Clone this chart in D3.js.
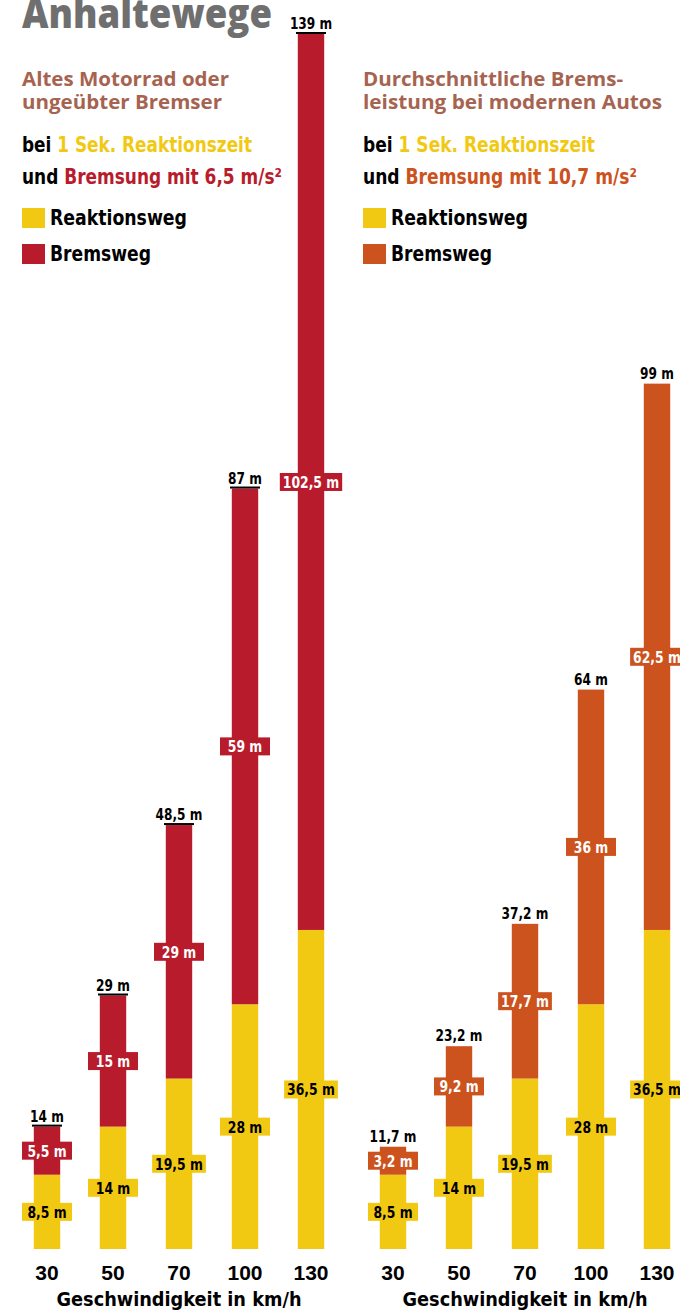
<!DOCTYPE html>
<html>
<head>
<meta charset="utf-8">
<script src="https://cdn.jsdelivr.net/npm/d3@7"></script>
<style>
  body { margin: 0; background: #fff; }
  svg { display: block; }
  text { font-family: "Liberation Sans Narrow", "DejaVu Sans Condensed", "Roboto", sans-serif; font-weight: bold; }
</style>
</head>
<body>
<script>
const speeds = ['30', '50', '70', '100', '130'];
const reaction = [8.5, 14, 19.5, 28, 36.5];
const brakeOld = [5.5, 15, 29, 59, 102.5];
const totalOld = [14, 29, 48.5, 87, 139];
const brakeNew = [3.2, 9.2, 17.7, 36, 62.5];
const totalNew = [11.7, 23.2, 37.2, 64, 99];
const legendKeys = ['Reaktionsweg', 'Bremsweg'];

const w = 680;
const h = 1311;
const yellow = '#f1c913';
const red = '#b81c2c';
const orange = '#cc521e';
const brown = '#a6634f';

const de = d3.formatLocale({decimal: ',', thousands: '.', grouping: [3], currency: ['', '€']});
const fmt = (v) => de.format('~f')(v) + ' m';

const svg = d3.select('body').append('svg').attr('width', w).attr('height', h);

const yScale = d3.scaleLinear().domain([0, 139]).range([1249, 34]);

// squeeze text horizontally a bit, the original uses a condensed face
function squeeze(sel, k) {
  sel.each(function() {
    const len = this.getComputedTextLength();
    d3.select(this).attr('textLength', len * k).attr('lengthAdjust', 'spacingAndGlyphs');
  });
}

svg.append('text').text('Anhaltewege')
   .attr('x', 22).attr('y', 28)
   .attr('textLength', 250).attr('lengthAdjust', 'spacingAndGlyphs')
   .style('font-family', '"Open Sans", "DejaVu Sans", sans-serif').style('font-weight', 800)
   .style('font-size', '40px').style('fill', '#6f6f6f');

function drawPanel(p) {
  const g = svg.append('g');
  const xScale = d3.scaleBand().domain(speeds)
                   .range([p.x0, p.x0 + 330]).paddingInner(0.6).paddingOuter(0.3);
  const bw = xScale.bandwidth();
  const tx = p.tx;

  // header
  p.head.forEach((line, i) => {
    g.append('text').text(line).attr('x', tx).attr('y', 86 + i * 23)
     .attr('textLength', p.headW[i]).attr('lengthAdjust', 'spacingAndGlyphs')
     .style('font-family', '"Open Sans", "DejaVu Sans", sans-serif').style('font-weight', 700)
     .style('font-size', '20px').style('fill', brown);
  });
  const t1 = g.append('text').attr('x', tx).attr('y', 152)
              .attr('textLength', p.line1W).attr('lengthAdjust', 'spacingAndGlyphs')
              .style('font-size', '22px');
  t1.append('tspan').text('bei ').style('fill', '#000');
  t1.append('tspan').text('1 Sek. Reaktionszeit').style('fill', yellow);
  const t2 = g.append('text').attr('x', tx).attr('y', 184)
              .attr('textLength', p.line2W).attr('lengthAdjust', 'spacingAndGlyphs')
              .style('font-size', '22px');
  t2.append('tspan').text('und ').style('fill', '#000');
  t2.append('tspan').text(p.brakeText).style('fill', p.color);

  // legend
  const lg = g.selectAll('.legend').data(legendKeys).enter().append('g')
              .attr('transform', (d, i) => 'translate(' + tx + ',' + (208 + i * 36) + ')');
  lg.append('rect').attr('width', 23).attr('height', 20)
    .style('fill', (d, i) => i === 0 ? yellow : p.color);
  lg.append('text').text((d) => d).attr('x', 28).attr('y', 17)
    .attr('textLength', (d, i) => i === 0 ? 137 : 101).attr('lengthAdjust', 'spacingAndGlyphs')
    .style('font-size', '22px').style('fill', '#000');

  // bars
  const rows = speeds.map((s, i) => ({s: s, r: reaction[i], b: p.brake[i], t: p.total[i]}));
  const bars = g.selectAll('.bar').data(rows).enter().append('g');

  bars.append('rect')
      .attr('x', (d) => xScale(d.s)).attr('width', bw)
      .attr('y', (d) => yScale(d.r)).attr('height', (d) => yScale(0) - yScale(d.r))
      .style('fill', yellow);
  bars.append('rect')
      .attr('x', (d) => xScale(d.s)).attr('width', bw)
      .attr('y', (d) => yScale(d.r + d.b)).attr('height', (d) => yScale(d.r) - yScale(d.r + d.b))
      .style('fill', p.color);

  if (p.topLine) {
    bars.append('rect')
        .attr('x', (d) => xScale(d.s) + bw / 2 - 15).attr('width', 30)
        .attr('y', (d) => yScale(d.t) - 2).attr('height', 2)
        .style('fill', '#000');
  }

  bars.append('text').text((d) => fmt(d.t))
      .attr('x', (d) => xScale(d.s) + bw / 2).attr('y', (d) => yScale(d.t) - 5)
      .attr('text-anchor', 'middle').style('font-size', '15px').style('fill', '#000')
      .call(squeeze, 0.9);

  // segment labels
  const segs = [];
  rows.forEach((d) => {
    segs.push({s: d.s, v: d.r, mid: d.r / 2, fill: yellow, ink: '#000'});
    segs.push({s: d.s, v: d.b, mid: d.r + d.b / 2, fill: p.color, ink: '#fff'});
  });
  const lab = g.selectAll('.seg').data(segs).enter().append('g')
               .attr('transform', (d) => 'translate(' + (xScale(d.s) + bw / 2) + ',' + yScale(d.mid) + ')');
  const box = lab.append('rect').attr('y', -9).attr('height', 18)
                 .style('fill', (d) => d.fill);
  lab.append('text').text((d) => fmt(d.v)).attr('text-anchor', 'middle').attr('y', 6)
     .style('font-size', '16px').style('fill', (d) => d.ink)
     .call(squeeze, 0.86)
     .each(function(d) { d.tw = +d3.select(this).attr('textLength'); });
  box.attr('width', (d) => Math.max(50, d.tw + 6)).attr('x', (d) => -Math.max(50, d.tw + 6) / 2);

  // axis
  const xAxis = d3.axisBottom(xScale).tickSize(0);
  const ax = g.append('g').attr('transform', 'translate(0,' + yScale(0) + ')').call(xAxis);
  ax.select('.domain').remove();
  ax.selectAll('text').attr('y', 31).attr('dy', 0)
    .style('font-family', '"Liberation Sans", "DejaVu Sans", sans-serif')
    .style('font-weight', 'bold').style('font-size', '21px').style('fill', '#000');

  g.append('text').text('Geschwindigkeit in km/h')
   .attr('x', xScale('70') + bw / 2).attr('y', 1306).attr('text-anchor', 'middle')
   .attr('textLength', 245).attr('lengthAdjust', 'spacingAndGlyphs')
   .style('font-size', '20px').style('fill', '#000');
}

drawPanel({x0: 14, tx: 22, brake: brakeOld, total: totalOld, color: red, topLine: true,
           head: ['Altes Motorrad oder', 'ungeübter Bremser'], headW: [207, 200],
           line1W: 230, line2W: 260, brakeText: 'Bremsung mit 6,5 m/s²'});
drawPanel({x0: 360, tx: 363, brake: brakeNew, total: totalNew, color: orange, topLine: false,
           head: ['Durchschnittliche Brems-', 'leistung bei modernen Autos'], headW: [260, 299],
           line1W: 232, line2W: 274, brakeText: 'Bremsung mit 10,7 m/s²'});
</script>
</body>
</html>
